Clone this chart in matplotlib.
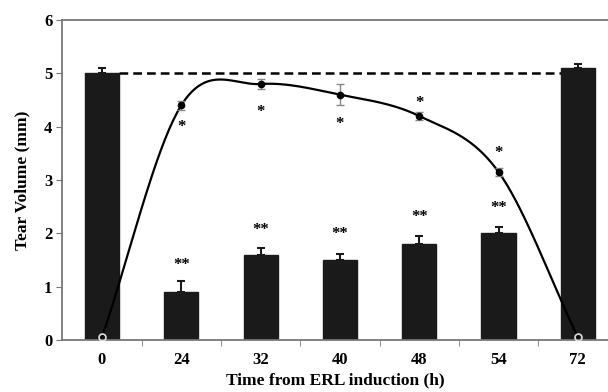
import numpy as np
import matplotlib
matplotlib.use("Agg")
import matplotlib.pyplot as plt

categories = ["0", "24", "32", "40", "48", "54", "72"]
bar_values = [5.0, 0.9, 1.6, 1.5, 1.8, 2.0, 5.1]
bar_errors = [0.1, 0.2, 0.12, 0.12, 0.15, 0.12, 0.08]
line_values = [0.05, 4.4, 4.8, 4.6, 4.2, 3.15, 0.05]
line_errors = [0.0, 0.08, 0.1, 0.2, 0.07, 0.08, 0.0]
baseline = 5.0
single_star_y = [None, 4.0, 4.28, 4.05, 4.44, 3.5, None]
double_star_y = [None, 1.4, 2.06, 1.98, 2.3, 2.48, None]

plt.rcParams['font.family'] = ['Liberation Serif', 'DejaVu Serif']
plt.rcParams['font.weight'] = 'bold'

fig = plt.figure(figsize=(6.08, 3.92), dpi=100)
ax = fig.add_axes([62/608, 52/392, 546/608, 320/392])

x = np.arange(len(categories))
ax.bar(x, bar_values, width=0.43, color='#1a1a1a', edgecolor='#1a1a1a', zorder=2)
ax.errorbar(x, bar_values, yerr=[np.zeros(len(x)), bar_errors], fmt='none',
            ecolor='#1a1a1a', elinewidth=1.5, capsize=3, capthick=1.5, zorder=3)

# Smooth (Catmull-Rom) curve through the line points
pts = np.column_stack([x.astype(float), line_values])
P = np.vstack([pts[0] - (pts[1] - pts[0]), pts, pts[-1] + (pts[-1] - pts[-2])])
cx, cy = [], []
t = np.linspace(0, 1, 40)
for i in range(1, len(P) - 2):
    p0, p1, p2, p3 = P[i - 1], P[i], P[i + 1], P[i + 2]
    b1 = p1 + (p2 - p0) / 6
    b2 = p2 - (p3 - p1) / 6
    seg = ((1 - t)[:, None] ** 3 * p1 + 3 * ((1 - t) ** 2 * t)[:, None] * b1
           + 3 * ((1 - t) * t ** 2)[:, None] * b2 + (t ** 3)[:, None] * p2)
    cx.extend(seg[:, 0]); cy.extend(seg[:, 1])
ax.plot(cx, cy, color='black', lw=1.6, zorder=4)

ax.errorbar(x[1:-1], line_values[1:-1], yerr=line_errors[1:-1], fmt='o', color='black',
            ms=4.5, ecolor='#888888', elinewidth=1, capsize=3, zorder=5)
ax.plot([x[0], x[-1]], [line_values[0], line_values[-1]], 'o', mfc='none', mec='#dddddd',
        ms=5, mew=1.2, zorder=5)

ax.plot([x[0] + 0.215, x[-1] - 0.215], [baseline, baseline], color='black', lw=1.8,
        ls=(0, (3.5, 2)), zorder=1)

for xi, sy in zip(x, single_star_y):
    if sy is not None:
        ax.text(xi, sy, "*", ha='center', va='center', fontsize=12, fontweight='bold')
for xi, dy in zip(x, double_star_y):
    if dy is not None:
        ax.text(xi, dy, "**", ha='center', va='center', fontsize=12, fontweight='bold')

ax.set_xlim(-0.504, 6.38)
ax.set_ylim(0, 6)
ax.set_xticks(x)
ax.set_xticklabels(categories)
ax.set_xticks(x[:-1] + 0.5, minor=True)
ax.tick_params(axis='x', which='major', length=0, pad=9, labelsize=12)
ax.tick_params(axis='x', which='minor', length=4, direction='out', color='#777777')
ax.set_yticks(range(7))
ax.tick_params(axis='y', length=4, direction='out', color='#777777', labelsize=12, pad=3)
for lab in ax.get_xticklabels() + ax.get_yticklabels():
    lab.set_fontweight('bold')

ax.spines['right'].set_visible(False)
for s in ['top', 'left', 'bottom']:
    ax.spines[s].set_color('#777777')
    ax.spines[s].set_linewidth(1.3)

ax.set_ylabel("Tear Volume (mm)", fontsize=12.5, fontweight='bold', labelpad=10)
ax.set_xlabel("Time from ERL induction (h)", fontsize=12.5, fontweight='bold', labelpad=3)

fig.savefig("out.png", dpi=100)
